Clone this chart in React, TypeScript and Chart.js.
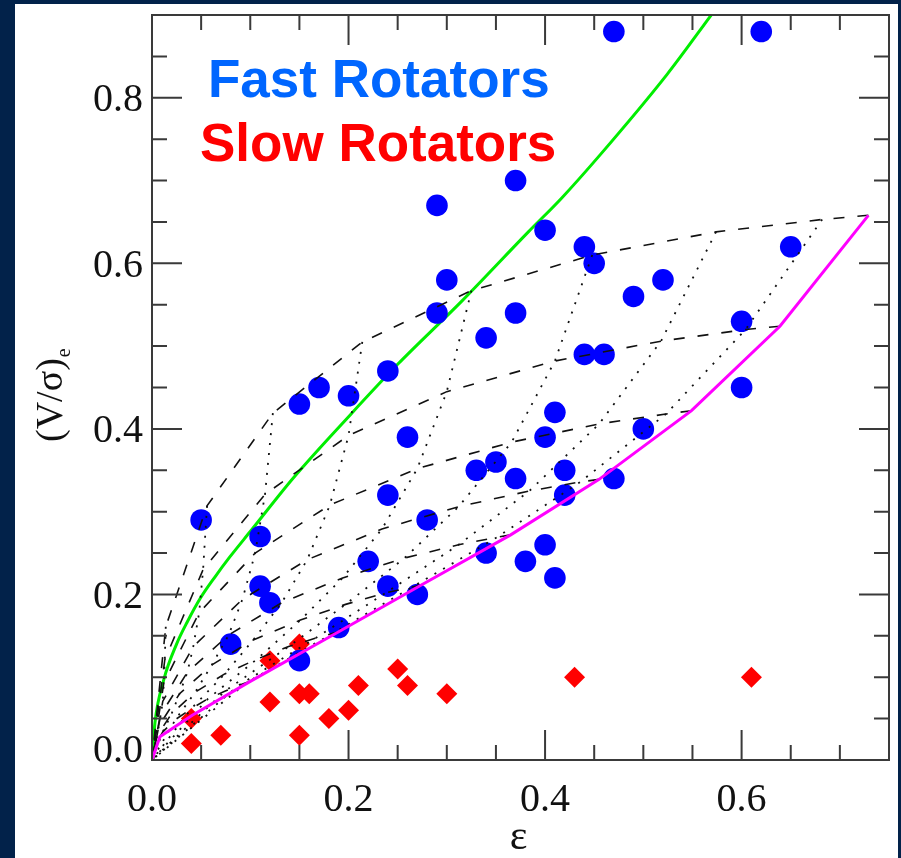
import React, { useEffect, useRef } from "react";
import { Chart, registerables } from "chart.js";

Chart.register(...registerables);

const WIDTH = 901;
const HEIGHT = 858;

// Fast rotators: ellipticity ε and (V/σ)e
const fastEps = [
  0.47, 0.62, 0.37, 0.29, 0.40, 0.44, 0.45, 0.65, 0.30, 0.29, 0.37, 0.49,
  0.52, 0.60, 0.34, 0.44, 0.46, 0.24, 0.15, 0.17, 0.20, 0.41, 0.40, 0.26,
  0.50, 0.60, 0.33, 0.35, 0.37, 0.42, 0.42, 0.47, 0.24, 0.28, 0.05, 0.11,
  0.22, 0.34, 0.38, 0.40, 0.41, 0.11, 0.24, 0.27, 0.12, 0.08, 0.19, 0.15,
];
const fastV = [
  0.88, 0.88, 0.70, 0.67, 0.64, 0.62, 0.60, 0.62, 0.58, 0.54, 0.54, 0.56,
  0.58, 0.53, 0.51, 0.49, 0.49, 0.47, 0.43, 0.45, 0.44, 0.42, 0.39, 0.39,
  0.40, 0.45, 0.35, 0.36, 0.34, 0.35, 0.32, 0.34, 0.32, 0.29, 0.29, 0.27,
  0.24, 0.25, 0.24, 0.26, 0.22, 0.21, 0.21, 0.20, 0.19, 0.14, 0.16, 0.12,
];

// Slow rotators
const slowEps = [0.04, 0.04, 0.07, 0.12, 0.12, 0.15, 0.15, 0.16, 0.15, 0.18, 0.20, 0.21, 0.25, 0.26, 0.30, 0.43, 0.61];
const slowV = [0.05, 0.02, 0.03, 0.12, 0.07, 0.14, 0.08, 0.08, 0.03, 0.05, 0.06, 0.09, 0.11, 0.09, 0.08, 0.10, 0.10];

// Isotropic rotator line (green)
const isoEps = [0, 0.003, 0.012, 0.025, 0.036, 0.049, 0.064, 0.079, 0.1, 0.144, 0.201, 0.25, 0.315, 0.383, 0.417, 0.456, 0.524, 0.571];
const isoV = [0, 0.045, 0.097, 0.140, 0.167, 0.195, 0.221, 0.245, 0.276, 0.341, 0.416, 0.478, 0.554, 0.638, 0.679, 0.731, 0.828, 0.903];

// Edge-on anisotropic line, δ = 0.7 ε_intr (magenta)
const edgeEps = [0, 0.008, 0.041, 0.1, 0.19, 0.275, 0.365, 0.455, 0.549, 0.639, 0.729];
const edgeV = [0, 0.028, 0.054, 0.095, 0.155, 0.212, 0.272, 0.339, 0.422, 0.524, 0.658];

// Projected tracks for each intrinsic shape, nodes at i = 90°, 80°, ... 10°
const track073 = [[0.729, 0.658], [0.682, 0.653], [0.574, 0.638], [0.448, 0.610], [0.325, 0.567], [0.214, 0.505], [0.123, 0.419], [0.056, 0.307], [0.014, 0.161]];
const track064 = [[0.639, 0.524], [0.604, 0.520], [0.518, 0.506], [0.410, 0.482], [0.300, 0.445], [0.200, 0.392], [0.115, 0.321], [0.052, 0.230], [0.013, 0.121]];
const track055 = [[0.549, 0.422], [0.523, 0.418], [0.455, 0.406], [0.366, 0.384], [0.270, 0.352], [0.181, 0.308], [0.105, 0.250], [0.048, 0.178], [0.012, 0.093]];
const track046 = [[0.455, 0.339], [0.436, 0.336], [0.384, 0.325], [0.312, 0.306], [0.234, 0.279], [0.158, 0.242], [0.092, 0.194], [0.042, 0.137], [0.011, 0.071]];
const track037 = [[0.365, 0.272], [0.351, 0.269], [0.312, 0.260], [0.257, 0.244], [0.194, 0.220], [0.132, 0.190], [0.078, 0.151], [0.036, 0.106], [0.009, 0.055]];
const track028 = [[0.275, 0.212], [0.265, 0.209], [0.238, 0.202], [0.197, 0.188], [0.151, 0.169], [0.103, 0.145], [0.061, 0.115], [0.028, 0.080], [0.007, 0.041]];
const track019 = [[0.190, 0.155], [0.184, 0.153], [0.166, 0.147], [0.139, 0.137], [0.107, 0.122], [0.074, 0.104], [0.044, 0.082], [0.020, 0.056], [0.005, 0.029]];
const track010 = [[0.100, 0.095], [0.097, 0.094], [0.088, 0.090], [0.074, 0.083], [0.057, 0.074], [0.040, 0.062], [0.024, 0.049], [0.011, 0.034], [0.003, 0.017]];

const tracks = [track073, track064, track055, track046, track037, track028, track019, track010];
const ORIGIN = [0, 0];

// Axis ticks
const xMajor = [0, 0.2, 0.4, 0.6];
const yMajor = [0, 0.2, 0.4, 0.6, 0.8];
const MINOR_STEP = 0.05;

const NAVY = "#02224a";
const INK = "#111111";
const FRAME = "#3a3a3a";
const SERIF = "'Liberation Serif', 'Times New Roman', serif";
const SANS = "'Liberation Sans', Arial, sans-serif";

const toXY = (xs: number[], ys: number[]) => xs.map((x, i) => ({ x, y: ys[i] }));
const pairsToXY = (pts: number[][]) => pts.map(([x, y]) => ({ x, y }));

const framePlugin = {
  id: "frameAndLabels",
  beforeDraw(chart: any) {
    const { ctx, width, height } = chart;
    ctx.save();
    ctx.fillStyle = NAVY;
    ctx.fillRect(0, 0, width, height);
    ctx.fillStyle = "#ffffff";
    ctx.fillRect(15, 4, 883, height - 4);
    ctx.restore();
  },
  afterDraw(chart: any) {
    const { ctx, chartArea } = chart;
    const xs = chart.scales.x;
    const ys = chart.scales.y;
    const { left, right, top, bottom } = chartArea;

    ctx.save();
    ctx.strokeStyle = FRAME;
    ctx.lineWidth = 2;
    ctx.lineCap = "butt";
    ctx.strokeRect(left, top, right - left, bottom - top);

    const isMajor = (v: number, list: number[]) => list.some((m) => Math.abs(m - v) < 1e-6);
    ctx.beginPath();
    for (let k = 1; k * MINOR_STEP < xs.max - 1e-6; k++) {
      const v = k * MINOR_STEP;
      const len = isMajor(v, xMajor) ? 30 : 15;
      const px = xs.getPixelForValue(v);
      ctx.moveTo(px, bottom);
      ctx.lineTo(px, bottom - len);
      ctx.moveTo(px, top);
      ctx.lineTo(px, top + len);
    }
    for (let k = 1; k * MINOR_STEP < ys.max - 1e-6; k++) {
      const v = k * MINOR_STEP;
      const len = isMajor(v, yMajor) ? 30 : 15;
      const py = ys.getPixelForValue(v);
      ctx.moveTo(left, py);
      ctx.lineTo(left + len, py);
      ctx.moveTo(right, py);
      ctx.lineTo(right - len, py);
    }
    ctx.stroke();

    // tick labels
    ctx.fillStyle = INK;
    ctx.font = `40px ${SERIF}`;
    ctx.textAlign = "center";
    ctx.textBaseline = "alphabetic";
    xMajor.forEach((v) => {
      ctx.fillText(v.toFixed(1), xs.getPixelForValue(v), bottom + 51);
    });
    ctx.textAlign = "right";
    yMajor.forEach((v) => {
      const py = ys.getPixelForValue(v);
      const base = v === 0 ? bottom + 1.5 : py + 13.3;
      ctx.fillText(v.toFixed(1), left - 9, base);
    });

    // axis titles
    ctx.textAlign = "center";
    ctx.font = `42px ${SERIF}`;
    ctx.fillText("ε", (left + right) / 2 - 2, 849);

    ctx.save();
    ctx.translate(62, 442);
    ctx.rotate(-Math.PI / 2);
    ctx.textAlign = "left";
    ctx.font = `38px ${SERIF}`;
    ctx.fillText("(V/σ)", 0, 0);
    const w = ctx.measureText("(V/σ)").width;
    ctx.font = `20px ${SERIF}`;
    ctx.fillText("e", w + 1, 8);
    ctx.restore();

    // class labels
    ctx.textAlign = "left";
    ctx.font = `bold 53px ${SANS}`;
    ctx.fillStyle = "#0066ff";
    ctx.fillText("Fast Rotators", 208, 97);
    ctx.fillStyle = "#ff0000";
    ctx.fillText("Slow Rotators", 200, 161);
    ctx.restore();
  },
};

export default function App() {
  const ref = useRef<HTMLCanvasElement>(null);

  useEffect(() => {
    const canvas = ref.current;
    if (!canvas) return;

    const dashedTracks = tracks.map((t) => ({
      type: "scatter" as const,
      data: pairsToXY([...t, ORIGIN]),
      showLine: true,
      borderColor: INK,
      borderWidth: 1.6,
      borderDash: [11, 13],
      pointRadius: 0,
      fill: false,
      order: 1,
    }));

    const inclinationLines = [1, 2, 3, 4, 5, 6, 7, 8].map((k) => ({
      type: "scatter" as const,
      data: pairsToXY([...tracks.map((t) => t[k]), ORIGIN]),
      showLine: true,
      borderColor: INK,
      borderWidth: 1.8,
      borderDash: [2, 8],
      pointRadius: 0,
      fill: false,
      order: 1,
    }));

    const chart = new Chart(canvas, {
      type: "scatter",
      data: {
        datasets: [
          {
            data: toXY(edgeEps, edgeV),
            showLine: true,
            borderColor: "#ff00ff",
            borderWidth: 3,
            pointRadius: 0,
            fill: false,
            order: 0,
          },
          ...dashedTracks,
          ...inclinationLines,
          {
            data: toXY(fastEps, fastV),
            pointStyle: "circle",
            pointRadius: 10.8,
            pointBackgroundColor: "#0000ff",
            pointBorderWidth: 0,
            borderWidth: 0,
            showLine: false,
            order: 2,
          },
          {
            data: toXY(slowEps, slowV),
            pointStyle: "rectRot",
            pointRadius: 10.5,
            pointBackgroundColor: "#ff0000",
            pointBorderWidth: 0,
            borderWidth: 0,
            showLine: false,
            order: 2,
          },
          {
            data: toXY(isoEps, isoV),
            showLine: true,
            borderColor: "#00ee00",
            borderWidth: 3,
            pointRadius: 0,
            cubicInterpolationMode: "monotone",
            fill: false,
            order: 3,
          },
        ] as any,
      },
      options: {
        responsive: false,
        animation: false,
        devicePixelRatio: 1,
        events: [],
        layout: { padding: { left: 152, top: 15, right: 12, bottom: 98 } },
        scales: {
          x: { type: "linear", min: 0, max: 0.75, display: false },
          y: { type: "linear", min: 0, max: 0.9, display: false },
        },
        plugins: {
          legend: { display: false },
          tooltip: { enabled: false },
          title: { display: false },
        },
      },
      plugins: [framePlugin],
    });

    return () => chart.destroy();
  }, []);

  return (
    <div style={{ position: "absolute", left: 0, top: 0, width: WIDTH, height: HEIGHT }}>
      <canvas
        ref={ref}
        width={WIDTH}
        height={HEIGHT}
        style={{ display: "block", width: WIDTH, height: HEIGHT }}
      />
    </div>
  );
}
